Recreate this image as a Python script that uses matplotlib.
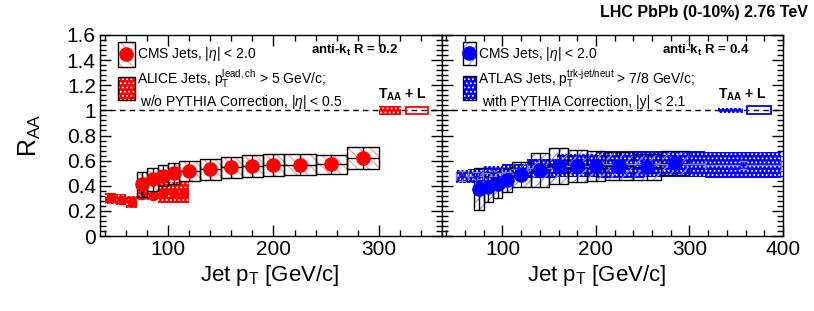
import matplotlib
matplotlib.use("Agg")
import matplotlib.pyplot as plt
from matplotlib.patches import Rectangle
import numpy as np

plt.rcParams['font.family'] = ['Liberation Sans', 'DejaVu Sans']
plt.rcParams['mathtext.fontset'] = 'custom'
plt.rcParams['mathtext.rm'] = 'Liberation Sans'
plt.rcParams['mathtext.it'] = 'Liberation Sans:italic'
plt.rcParams['mathtext.bf'] = 'Liberation Sans:bold'
plt.rcParams['hatch.linewidth'] = 0.8

# ---------------- data ----------------
cms_edges = [70, 80, 90, 100, 110, 130, 150, 170, 190, 210, 240, 270, 300]
cms_r02 = [0.41, 0.45, 0.48, 0.50, 0.52, 0.53, 0.547, 0.557, 0.565, 0.568, 0.57, 0.62]
cms_r02_err = [0.10, 0.09, 0.085, 0.083, 0.08, 0.083, 0.085, 0.087, 0.086, 0.082, 0.077, 0.087]

cms_r04 = [0.373, 0.39, 0.413, 0.442, 0.488, 0.525, 0.557, 0.557, 0.56, 0.557, 0.55, 0.583]
cms_r04_err = [0.166, 0.122, 0.107, 0.094, 0.10, 0.133, 0.14, 0.13, 0.12, 0.112, 0.103, 0.097]

alice_edges = [40, 50, 60, 70, 80, 90, 100, 110, 120]
alice_r02 = [0.30, 0.29, 0.27, 0.33, 0.32, 0.345, 0.345, 0.345]
alice_r02_sys = [0.042, 0.045, 0.048, 0.04, 0.035, 0.085, 0.085, 0.085]
alice_r02_stat = [0.02, 0.02, 0.025, 0.03, 0.03, 0.03, 0.03, 0.03]

atlas_edges = [50.1, 63.1, 79.4, 100.0, 125.9, 158.5, 199.5, 251.2, 316.2, 398.1]
atlas_r04 = [0.475, 0.48, 0.50, 0.51, 0.54, 0.56, 0.57, 0.575, 0.565]
atlas_r04_sys = [0.05, 0.055, 0.06, 0.065, 0.075, 0.09, 0.11, 0.105, 0.105]
atlas_r04_stat = [0.04, 0.03, 0.02, 0.02, 0.02, 0.02, 0.02, 0.02, 0.03]

x_ticks_left = [100, 200, 300]
x_ticks_right = [100, 200, 300, 400]
y_ticks = [0, 0.2, 0.4, 0.6, 0.8, 1, 1.2, 1.4, 1.6]
y_tick_labels = ['0', '0.2', '0.4', '0.6', '0.8', '1', '1.2', '1.4', '1.6']

# ---------------- figure ----------------
W, H = 814, 311
fig = plt.figure(figsize=(W / 100, H / 100), dpi=100)
ax_l = fig.add_axes([100 / W, 1 - 236 / H, 341.7 / W, 201 / H])
ax_r = fig.add_axes([441.7 / W, 1 - 236 / H, 341.3 / W, 201 / H])

RED = '#ff0000'
BLUE = '#0000ff'
LEG_FS = 10.0


def hatched_boxes(ax, edges, vals, errs, hcolor, hatch, z=3):
    for i, v in enumerate(vals):
        x0, x1 = edges[i], edges[i + 1]
        ax.add_patch(Rectangle((x0, v - errs[i]), x1 - x0, 2 * errs[i],
                               facecolor='none', edgecolor=hcolor, hatch=hatch,
                               lw=0, zorder=z))
        ax.add_patch(Rectangle((x0, v - errs[i]), x1 - x0, 2 * errs[i],
                               facecolor='none', edgecolor='black', lw=1.0,
                               zorder=z + 0.1))


def dotted_boxes(ax, edges, vals, errs, color, z=2):
    for i, v in enumerate(vals):
        x0, x1 = edges[i], edges[i + 1]
        ax.add_patch(Rectangle((x0, v - errs[i]), x1 - x0, 2 * errs[i],
                               facecolor=color, edgecolor='white', hatch='....',
                               lw=0, zorder=z))


def centers(edges):
    e = np.asarray(edges, dtype=float)
    return (e[:-1] + e[1:]) / 2, (e[1:] - e[:-1]) / 2


# ----- left panel -----
ax = ax_l
dotted_boxes(ax, alice_edges, alice_r02, alice_r02_sys, RED, z=2)
ac, aw = centers(alice_edges)
ax.errorbar(ac, alice_r02, yerr=alice_r02_stat, fmt='o', color=RED, ms=6,
            lw=1, capsize=0, zorder=2.5)
hatched_boxes(ax, cms_edges, cms_r02, cms_r02_err, '#ff9090', '\\\\\\', z=3)
cc, cw = centers(cms_edges)
ax.errorbar(cc, cms_r02, xerr=cw, yerr=cms_r02_err, fmt='none', ecolor='black',
            lw=1, capsize=0, zorder=4)
ax.plot(cc, cms_r02, 'o', color=RED, ms=9.5, zorder=5)

# ----- right panel -----
ax = ax_r
dotted_boxes(ax, atlas_edges, atlas_r04, atlas_r04_sys, BLUE, z=2)
tc, tw = centers(atlas_edges)
hatched_boxes(ax, cms_edges, cms_r04, cms_r04_err, '#8f8fff', '///', z=3)
ax.errorbar(cc, cms_r04, xerr=cw, yerr=cms_r04_err, fmt='none', ecolor='black',
            lw=1, capsize=0, zorder=4)
ax.errorbar(tc, atlas_r04, xerr=tw, yerr=atlas_r04_stat, fmt='none',
            ecolor='#8080ff', lw=1, capsize=3, zorder=4.5)
ax.plot(tc, atlas_r04, '+', color=BLUE, ms=5, zorder=4.6)
ax.plot(cc, cms_r04, 'o', color=BLUE, ms=9.5, zorder=5)

# ----- axes styling -----
for ax, xlim, xt in [(ax_l, (35, 360), x_ticks_left), (ax_r, (35, 400), x_ticks_right)]:
    ax.set_xlim(*xlim)
    ax.set_ylim(0, 1.6)
    ax.axhline(1.0, color='black', ls=(0, (4, 3)), lw=1.0, zorder=1)
    ax.set_xticks(xt)
    ax.set_xticks(np.arange(40, xlim[1] + 1, 20), minor=True)
    ax.set_yticks(y_ticks)
    ax.set_yticks(np.arange(0, 1.6001, 0.04), minor=True)
    ax.tick_params(which='both', direction='in', top=True, right=True,
                   width=1.0, labelsize=15, pad=3)
    ax.tick_params(which='major', length=8)
    ax.tick_params(which='minor', length=4)
    for s in ax.spines.values():
        s.set_linewidth(1.0)
ax_l.set_yticklabels(y_tick_labels)
ax_r.set_yticklabels([])

# T_AA + L normalisation boxes
ax_l.add_patch(Rectangle((300, 0.965), 21, 0.07, facecolor=RED, edgecolor='white',
                         hatch='....', lw=0, zorder=3))
ax_l.add_patch(Rectangle((326, 0.97), 21, 0.06, facecolor='none', edgecolor=RED,
                         lw=1.3, zorder=3))
ax_r.add_patch(Rectangle((331, 0.98), 26, 0.04, facecolor=BLUE, edgecolor='white',
                         hatch='....', lw=0, zorder=3))
ax_r.add_patch(Rectangle((362, 0.968), 25, 0.064, facecolor='none', edgecolor=BLUE,
                         lw=1.3, zorder=3))
ax_l.text(323, 1.12, r'T$_{\mathbf{AA}}$ + L', ha='center', va='center',
          fontsize=10, fontweight='bold')
ax_r.text(357, 1.12, r'T$_{\mathbf{AA}}$ + L', ha='center', va='center',
          fontsize=10, fontweight='bold')


# ----- legends drawn in axes coordinates -----
def legend_icon(ax, x0, x1, y0, y1, kind, color, hcolor=None, hatch=None):
    if kind == 'cms':
        ax.add_patch(Rectangle((x0, y0), x1 - x0, y1 - y0, transform=ax.transAxes,
                               facecolor='white', edgecolor=hcolor, hatch=hatch,
                               lw=0, zorder=6))
        ax.add_patch(Rectangle((x0, y0), x1 - x0, y1 - y0, transform=ax.transAxes,
                               facecolor='none', edgecolor='black', lw=1.0, zorder=6.1))
        ax.plot([(x0 + x1) / 2], [(y0 + y1) / 2], 'o', color=color, ms=9.5,
                transform=ax.transAxes, zorder=6.2)
    else:
        ax.add_patch(Rectangle((x0, y0), x1 - x0, y1 - y0, transform=ax.transAxes,
                               facecolor=color, edgecolor='white', hatch='....',
                               lw=0, zorder=6))
        ax.add_patch(Rectangle((x0, y0), x1 - x0, y1 - y0, transform=ax.transAxes,
                               facecolor='none', edgecolor='black', lw=1.0, zorder=6.1))


legend_icon(ax_l, 0.053, 0.102, 0.841, 0.965, 'cms', RED, '#ff9090', '\\\\\\')
legend_icon(ax_l, 0.053, 0.102, 0.677, 0.791, 'alice', RED)
ax_l.text(0.108, 0.905, r'CMS Jets, |$\eta$| < 2.0', transform=ax_l.transAxes,
          fontsize=LEG_FS, va='center', ha='left')
ax_l.text(0.108, 0.78, r'ALICE Jets, p$_{\mathrm{T}}^{\mathrm{lead,ch}}$ > 5 GeV/c;',
          transform=ax_l.transAxes, fontsize=LEG_FS, va='center', ha='left')
ax_l.text(0.117, 0.666, r'w/o PYTHIA Correction, |$\eta$| < 0.5',
          transform=ax_l.transAxes, fontsize=LEG_FS, va='center', ha='left')
ax_l.text(0.746, 0.922, r'anti-k$_{\mathbf{t}}$ R = 0.2', transform=ax_l.transAxes,
          fontsize=9.5, fontweight='bold', va='center', ha='center')

legend_icon(ax_r, 0.062, 0.100, 0.851, 0.965, 'cms', BLUE, '#8f8fff', '///')
legend_icon(ax_r, 0.062, 0.100, 0.677, 0.796, 'atlas', BLUE)
ax_r.text(0.106, 0.905, r'CMS Jets, |$\eta$| < 2.0', transform=ax_r.transAxes,
          fontsize=LEG_FS, va='center', ha='left')
ax_r.text(0.106, 0.78, r'ATLAS Jets, p$_{\mathrm{T}}^{\mathrm{trk\text{-}jet/neut}}$ > 7/8 GeV/c;',
          transform=ax_r.transAxes, fontsize=LEG_FS, va='center', ha='left')
ax_r.text(0.118, 0.666, r'with PYTHIA Correction, |y| < 2.1',
          transform=ax_r.transAxes, fontsize=LEG_FS, va='center', ha='left')
ax_r.text(0.775, 0.922, r'anti-k$_{\mathbf{t}}$ R = 0.4', transform=ax_r.transAxes,
          fontsize=9.5, fontweight='bold', va='center', ha='center')

# ----- labels -----
fig.text(808 / W, 1 - 12 / H, 'LHC PbPb (0-10%) 2.76 TeV', ha='right', va='center',
         fontsize=11.5, fontweight='bold')
fig.text(30 / W, 1 - 135 / H, r'R$_{\mathrm{AA}}$', rotation=90, ha='center',
         va='center', fontsize=18)
fig.text(270 / W, 1 - 276 / H, r'Jet p$_{\mathrm{T}}$ [GeV/c]', ha='center',
         va='center', fontsize=16)
fig.text(597 / W, 1 - 276 / H, r'Jet p$_{\mathrm{T}}$ [GeV/c]', ha='center',
         va='center', fontsize=16)

fig.savefig('out.png', dpi=100)
